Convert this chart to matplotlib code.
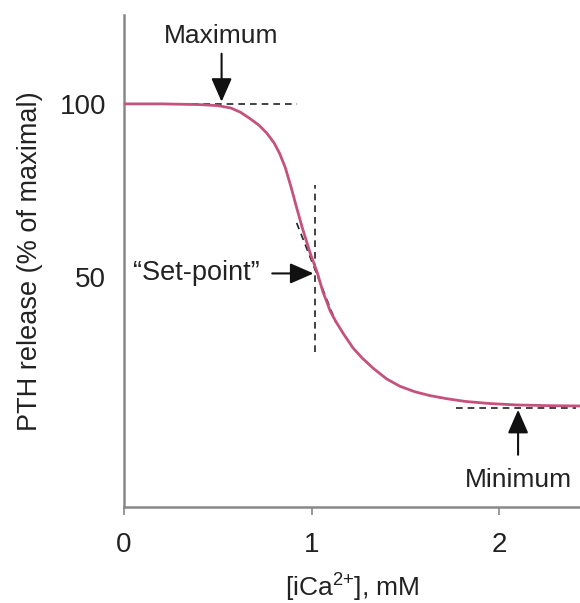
import numpy as np
import matplotlib.pyplot as plt

plt.rcParams['font.family'] = ['Liberation Sans', 'DejaVu Sans']
plt.rcParams['mathtext.fontset'] = 'custom'
plt.rcParams['mathtext.rm'] = 'Liberation Sans'

# curve: [iCa2+] (mM) vs PTH release (% of maximal)
ica = [0.0, 0.20, 0.40, 0.50, 0.57, 0.62, 0.67, 0.72, 0.76, 0.80, 0.83, 0.86,
       0.89, 0.92, 0.95, 0.99, 1.03, 1.06, 1.10, 1.13, 1.17, 1.22, 1.27, 1.33,
       1.40, 1.47, 1.55, 1.63, 1.72, 1.82, 1.95, 2.09, 2.25, 2.43]
pth = [100.0, 100.0, 99.8, 99.5, 98.8, 97.6, 95.8, 93.8, 91.6, 88.7, 85.6, 81.5,
       76.0, 70.0, 64.2, 57.2, 51.2, 45.7, 40.0, 37.0, 33.5, 29.5, 26.5, 23.5,
       20.5, 18.4, 16.8, 15.7, 14.8, 14.0, 13.4, 13.0, 12.8, 12.7]

x_ticks = [0, 1, 2]
y_ticks = [50, 100]

max_line_x = [0.30, 0.92]
max_level = 100
min_line_x = [1.77, 2.41]
min_level = 12.1
setpoint_x = 1.02
setpoint_y = 51
vert_line_y = [28.3, 76.6]
tangent_x = [0.92, 1.13]
tangent_y = [65.6, 36.7]

fig = plt.figure(figsize=(5.8, 6.03), dpi=100)
ax = fig.add_axes([0.2138, 0.1592, 0.7862, 0.816])

ax.plot(ica, pth, color='#c5527c', lw=2.0, solid_joinstyle='round',
        solid_capstyle='round', zorder=3)

dash = dict(color='#222222', lw=1.2, ls=(0, (4, 3)), zorder=2)
ax.plot(max_line_x, [max_level, max_level], **dash)
ax.plot(min_line_x, [min_level, min_level], **dash)
ax.plot([setpoint_x, setpoint_x], vert_line_y, **dash)
ax.plot(tangent_x, tangent_y, **dash)

arrow = dict(arrowstyle='-|>,head_length=0.8,head_width=0.35', color='#111111',
             lw=1.5, shrinkA=0, shrinkB=0, mutation_scale=18)
ax.annotate('', xy=(0.52, 100.6), xytext=(0.52, 114.5), arrowprops=arrow)
ax.text(0.52, 119.5, 'Maximum', ha='center', va='center', fontsize=19, color='#222222')

ax.annotate('', xy=(1.01, setpoint_y), xytext=(0.79, setpoint_y), arrowprops=arrow)
ax.text(0.725, setpoint_y, '\u201cSet-point\u201d', ha='right', va='center',
        fontsize=19.5, color='#222222')

ax.annotate('', xy=(2.10, 11.6), xytext=(2.10, -1.4), arrowprops=arrow)
ax.text(2.10, -8.7, 'Minimum', ha='center', va='center', fontsize=19, color='#222222')

ax.set_xlim(0, 2.43)
ax.set_ylim(-16.5, 125.7)
ax.set_xticks(x_ticks)
ax.set_xticklabels([str(t) for t in x_ticks])
ax.set_yticks(y_ticks)
ax.set_yticklabels([str(t) for t in y_ticks])
ax.tick_params(axis='x', direction='out', length=6, width=1.2, color='#888888',
               labelsize=20, pad=12, labelcolor='#222222')
ax.tick_params(axis='y', length=0, labelsize=20, pad=13, labelcolor='#222222')

for side in ['top', 'right']:
    ax.spines[side].set_visible(False)
for side in ['left', 'bottom']:
    ax.spines[side].set_color('#888888')
    ax.spines[side].set_linewidth(1.8)

ax.set_xlabel(r'[iCa$^{2{+}}$], mM', fontsize=19, color='#222222', labelpad=9)
ax.set_ylabel('PTH release (% of maximal)', fontsize=19.5, color='#222222', labelpad=12)

fig.savefig('out.png', dpi=100)
